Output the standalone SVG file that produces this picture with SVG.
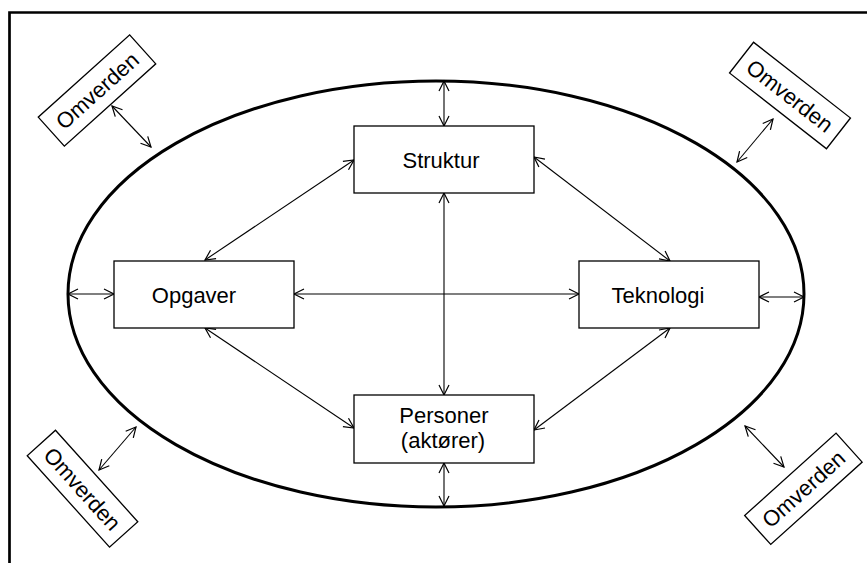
<svg xmlns="http://www.w3.org/2000/svg" width="867" height="563" viewBox="0 0 867 563">
<style>
.box{fill:#fff;stroke:#000;stroke-width:1.3}
.t{font-family:"Liberation Sans",Arial,sans-serif;font-size:22px;fill:#000;text-anchor:middle}
.c line{stroke:#000;stroke-width:1.1;marker-start:url(#ah);marker-end:url(#ah)}
</style>
<defs>
<marker id="ah" viewBox="0 0 10 10" refX="10" refY="5" markerWidth="10" markerHeight="10" markerUnits="userSpaceOnUse" orient="auto-start-reverse" overflow="visible">
<path d="M0,0 L10,5 L0,10" fill="none" stroke="#000" stroke-width="1.2"/>
</marker>
</defs>
<rect width="867" height="563" fill="#fff"/>
<path d="M9.5,570 V12.5 H875" fill="none" stroke="#000" stroke-width="2.7"/>
<ellipse id="omraade" cx="436" cy="294" rx="368" ry="213" fill="none" stroke="#000" stroke-width="3"/>
<g class="c" id="connectors">
<line x1="444" y1="81" x2="444" y2="126"/>
<line x1="444" y1="193" x2="444" y2="395"/>
<line x1="444" y1="463" x2="444" y2="506"/>
<line x1="68" y1="294" x2="114" y2="294"/>
<line x1="294" y1="294" x2="579" y2="294"/>
<line x1="759" y1="297" x2="804" y2="297"/>
<line x1="354" y1="160" x2="205" y2="260"/>
<line x1="534" y1="157" x2="670" y2="261"/>
<line x1="205" y1="328" x2="354" y2="428"/>
<line x1="670" y1="328" x2="534" y2="430"/>
<line x1="112" y1="106" x2="151" y2="147"/>
<line x1="773" y1="119" x2="737" y2="162"/>
<line x1="136" y1="427" x2="99" y2="470"/>
<line x1="745" y1="426" x2="784" y2="467"/>
</g>
<g id="struktur"><rect class="box" x="354" y="126" width="180" height="67"/><text class="t" x="441" y="168">Struktur</text></g>
<g id="opgaver"><rect class="box" x="114" y="261" width="180" height="67"/><text class="t" x="194" y="303">Opgaver</text></g>
<g id="teknologi"><rect class="box" x="579" y="261" width="180" height="67"/><text class="t" x="658" y="303">Teknologi</text></g>
<g id="personer"><rect class="box" x="354" y="395" width="180" height="68"/><text class="t" x="444" y="423">Personer</text><text class="t" x="443" y="448">(aktører)</text></g>
<g id="omverden-tl" transform="translate(97,90.5) rotate(-42)"><rect class="box" x="-61.5" y="-19.5" width="123" height="39"/><text class="t" x="0" y="8">Omverden</text></g>
<g id="omverden-tr" transform="translate(790,95.5) rotate(38)"><rect class="box" x="-61.5" y="-19.5" width="123" height="39"/><text class="t" x="0" y="8">Omverden</text></g>
<g id="omverden-bl" transform="translate(82.5,488.7) rotate(48)"><rect class="box" x="-61.5" y="-19" width="123" height="38"/><text class="t" x="0" y="8">Omverden</text></g>
<g id="omverden-br" transform="translate(803.4,488.8) rotate(-42)"><rect class="box" x="-61.5" y="-19.5" width="123" height="39"/><text class="t" x="0" y="8">Omverden</text></g>
</svg>
